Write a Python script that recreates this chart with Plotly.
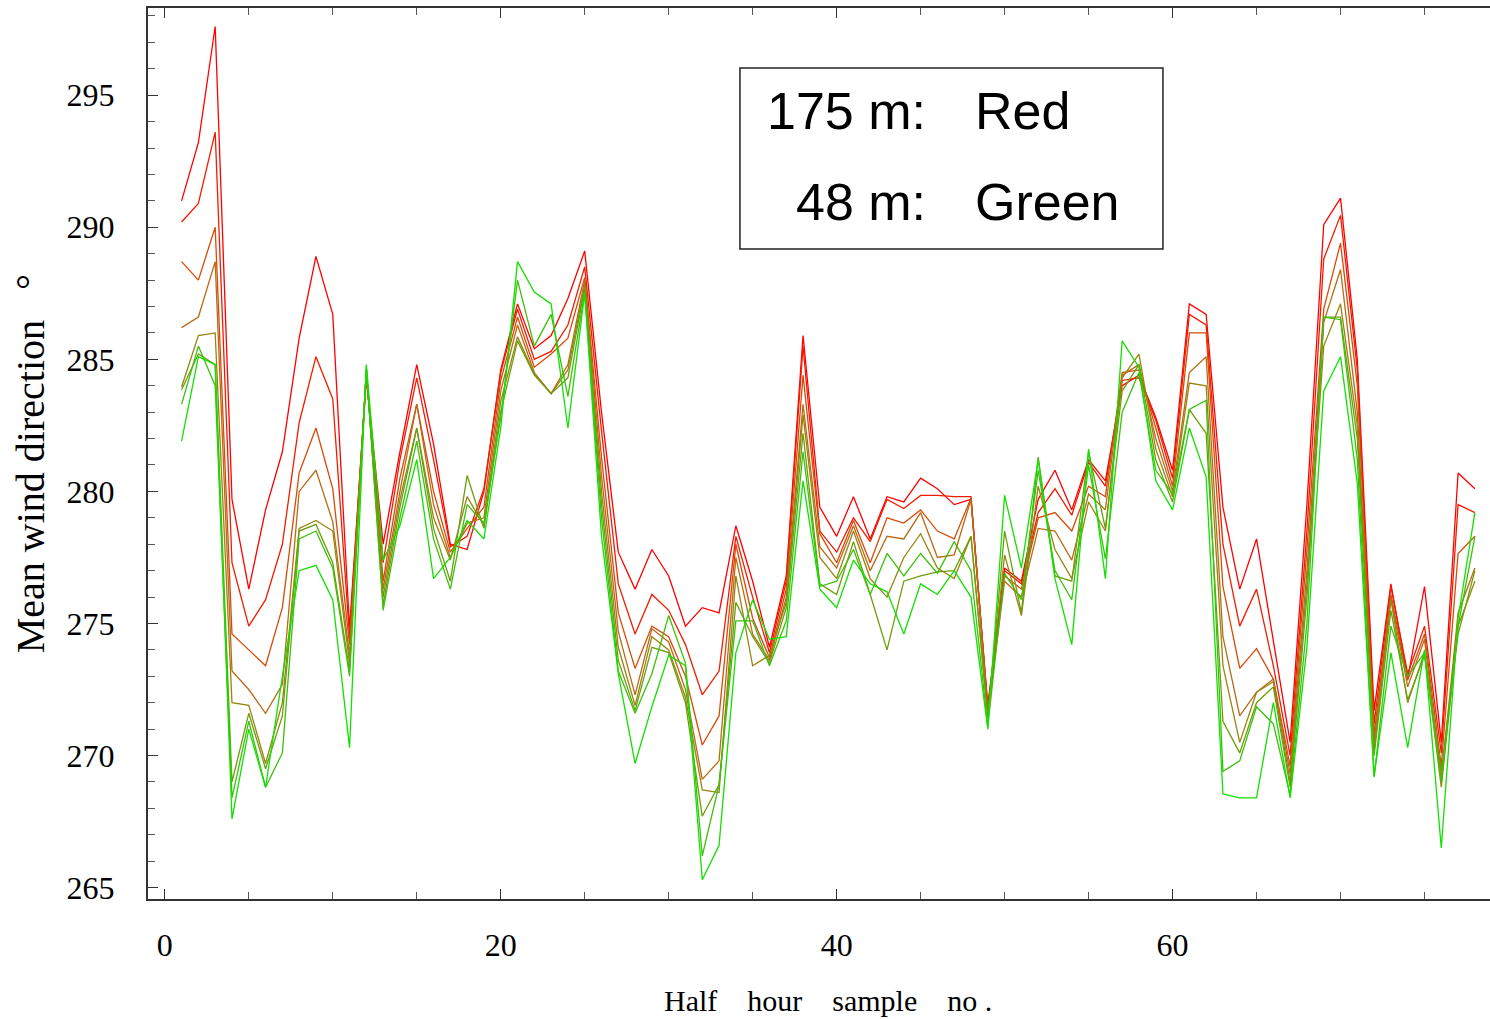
import plotly.graph_objects as go

# Half-hour sample numbers
samples = list(range(1, 79))

# Mean wind direction (degrees) at eight levels, 175 m (red) ... 48 m (green)
level_1 = [291.0, 293.2, 297.6, 279.7, 276.3, 279.3, 281.5, 285.8, 288.9, 286.7,
           274.8, 284.3, 278.0, 281.5, 284.8, 281.8, 278.0, 277.8, 280.0, 284.6,
           287.1, 285.4, 285.9, 287.3, 289.1, 283.0, 277.7, 276.3, 277.8, 276.8,
           274.9, 275.6, 275.4, 278.7, 276.6, 274.1, 276.8, 285.9, 279.4, 278.3,
           279.8, 278.2, 279.8, 279.6, 280.5, 280.1, 279.5, 279.7, 271.9, 277.1,
           276.6, 279.7, 280.8, 279.3, 281.2, 280.4, 284.0, 284.4, 282.8, 280.8,
           287.1, 286.7, 279.4, 276.3, 278.2, 274.4, 270.5, 279.5, 290.1, 291.1,
           285.0, 271.7, 276.5, 272.9, 276.4, 270.5, 280.7, 280.1]
level_2 = [290.2, 290.9, 293.6, 277.3, 274.9, 275.9, 278.0, 282.6, 285.1, 283.5,
           274.5, 284.4, 277.3, 281.2, 284.3, 281.2, 277.9, 278.3, 280.1, 284.5,
           286.9, 285.0, 285.3, 286.3, 288.5, 282.3, 276.5, 274.6, 276.1, 275.5,
           274.2, 272.3, 273.2, 278.3, 276.0, 273.9, 276.6, 285.5, 278.5, 277.7,
           279.0, 278.1, 279.7, 279.35, 279.85, 279.85, 279.8, 279.8, 271.8, 277.0,
           276.5, 279.2, 280.1, 279.1, 281.1, 280.2, 284.2, 284.3, 282.7, 280.5,
           286.7, 286.3, 278.0, 274.9, 276.3, 273.4, 270.0, 278.5, 288.8, 290.45,
           284.6, 271.2, 276.4, 273.1, 274.9, 270.1, 279.5, 279.2]
level_3 = [288.7, 288.0, 290.0, 274.6, 274.0, 273.4, 275.6, 280.7, 282.4, 280.1,
           274.2, 284.5, 276.6, 280.5, 283.3, 280.0, 277.7, 278.6, 279.4, 284.2,
           286.6, 284.7, 285.2, 285.8, 288.1, 281.3, 275.4, 273.3, 274.9, 274.5,
           273.0, 270.4, 271.5, 278.0, 275.2, 273.7, 276.3, 284.4, 278.4, 277.3,
           278.9, 277.3, 279.0, 278.8, 279.3, 278.5, 278.2, 279.75, 271.7, 276.8,
           276.3, 279.0, 279.2, 278.5, 280.2, 279.8, 284.5, 284.6, 282.4, 280.2,
           286.0, 286.0, 276.4, 273.3, 274.05, 272.9, 269.6, 277.8, 286.9, 289.4,
           284.0, 270.8, 276.1, 272.85, 274.6, 269.6, 277.65, 278.3]
level_4 = [286.2, 286.6, 288.7, 273.2, 272.5, 271.6, 272.7, 280.0, 280.8, 278.85,
           273.8, 284.5, 276.3, 280.0, 283.3, 279.5, 277.5, 278.8, 279.0, 283.8,
           286.3, 284.5, 283.7, 284.8, 288.0, 280.6, 274.7, 272.3, 274.8, 274.3,
           272.5, 269.1, 269.8, 277.5, 274.6, 273.6, 276.0, 283.3, 277.9, 277.1,
           278.7, 277.0, 278.3, 278.2, 279.2, 277.5, 277.6, 279.7, 271.6, 276.6,
           276.0, 278.6, 278.5, 277.4, 279.9, 279.3, 284.4, 284.8, 282.0, 280.0,
           284.5, 285.1, 274.5, 271.5, 272.4, 272.9, 269.3, 277.0, 286.4, 288.4,
           283.0, 270.5, 276.0, 272.6, 274.4, 269.1, 275.4, 277.1]
level_5 = [283.95, 285.9, 286.0, 272.0, 271.9, 269.7, 272.0, 278.6, 278.9, 278.5,
           273.5, 284.6, 276.0, 279.7, 282.4, 279.0, 277.4, 279.8, 278.7, 283.4,
           285.85, 284.45, 283.7, 284.6, 287.8, 280.0, 274.1, 271.9, 274.5, 274.0,
           272.2, 268.7, 268.6, 276.8, 273.4, 273.8, 275.8, 282.9, 277.5, 276.7,
           278.5, 276.7, 276.0, 277.5, 278.4, 277.1, 276.7, 278.3, 271.5, 277.6,
           275.3, 280.2, 277.8, 276.7, 279.6, 278.5, 284.3, 285.2, 281.6, 279.8,
           284.1, 284.0, 273.4, 270.5, 272.4, 272.8, 269.0, 276.5, 285.5, 287.1,
           282.5, 270.2, 275.9, 272.0, 273.9, 268.8, 274.9, 276.6]
level_6 = [283.85, 285.2, 284.8, 269.0, 271.6, 269.5, 271.5, 278.5, 278.75, 277.3,
           273.2, 284.6, 275.7, 279.4, 282.4, 278.6, 276.6, 280.6, 278.6, 283.0,
           285.7, 284.4, 283.7, 284.3, 287.7, 279.5, 273.6, 271.7, 274.1, 273.9,
           272.0, 267.7, 268.9, 275.8, 274.5, 273.5, 275.6, 282.2, 276.5, 276.1,
           278.1, 276.1, 274.0, 276.6, 276.8, 276.95, 277.0, 278.3, 271.4, 278.5,
           275.4, 281.3, 276.8, 276.6, 281.5, 278.6, 283.8, 284.8, 281.2, 279.6,
           283.1, 282.2, 271.3, 270.1, 272.0, 272.6, 268.8, 276.0, 286.6, 286.6,
           282.0, 270.0, 275.5, 272.1, 273.8, 269.4, 274.6, 277.0]
level_7 = [283.3, 285.5, 284.0, 268.4, 271.3, 268.8, 270.1, 278.2, 278.5, 277.1,
           273.0, 284.7, 275.5, 279.0, 281.9, 278.2, 276.3, 279.5, 278.8, 282.8,
           288.0, 285.5, 286.7, 283.6, 287.55, 279.0, 273.2, 271.6, 273.1, 275.3,
           273.5, 266.2, 268.9, 275.1, 275.1, 273.4, 275.1, 281.5, 276.4, 276.6,
           277.8, 276.1, 277.65, 276.8, 277.65, 276.9, 278.1, 277.0, 271.1, 276.9,
           275.9, 280.8, 277.0, 275.9, 281.0, 277.45, 283.0, 284.5, 280.8, 279.9,
           283.1, 283.45, 269.4, 269.8, 271.85, 271.2, 268.5, 275.0, 286.6, 286.5,
           281.2, 269.2, 274.9, 273.0, 273.9, 269.0, 274.9, 278.3]
level_8 = [281.9, 285.1, 284.8, 267.6, 271.0, 268.8, 273.0, 277.0, 277.2, 275.9,
           270.3, 284.8, 277.4, 278.7, 281.2, 276.7, 277.5, 278.9, 278.2, 282.4,
           288.7, 287.55, 287.1, 282.4, 287.5, 278.3, 273.1, 269.7, 271.85, 273.8,
           273.4, 265.3, 266.6, 273.9, 275.9, 274.4, 274.5, 280.4, 276.3, 275.6,
           277.4, 276.5, 276.2, 274.6, 276.5, 276.1, 277.0, 276.0, 271.0, 279.85,
           277.1, 281.2, 276.7, 274.2, 281.6, 276.7, 285.7, 284.7, 280.4, 279.3,
           282.4, 280.55, 268.55, 268.4, 268.4, 272.0, 268.4, 274.1, 283.8, 285.1,
           280.3, 269.2, 273.9, 270.3, 274.0, 266.5, 275.2, 279.2]

levels = [level_1, level_2, level_3, level_4, level_5, level_6, level_7, level_8]
level_names = ["175 m", "level 2", "level 3", "level 4", "level 5", "level 6", "level 7", "48 m"]
level_colors = ["#ff0000", "#f01c00", "#d84a08", "#b86a14", "#988410", "#6c9e0c", "#3cc00a", "#12e000"]

fig = go.Figure()
for vals, name, col in zip(levels, level_names, level_colors):
    fig.add_trace(go.Scatter(x=samples, y=vals, mode="lines", name=name,
                             line=dict(color=col, width=1.3), showlegend=False))

axis_font = dict(family="Liberation Serif, Times New Roman, serif", size=32, color="black")

fig.update_layout(
    width=1490, height=1019, autosize=False,
    margin=dict(l=148, r=0, t=8, b=120),
    paper_bgcolor="white", plot_bgcolor="white",
    xaxis=dict(range=[-1, 78.9], tickvals=[0, 20, 40, 60], ticks="inside", ticklen=10,
               tickwidth=1.2, tickcolor="#333",
               minor=dict(dtick=5, tick0=0, ticks="inside", ticklen=7, tickcolor="#555"),
               showline=True, linecolor="#333", linewidth=2, mirror="ticks",
               showgrid=False, zeroline=False, tickfont=axis_font, ticklabelstandoff=17),
    yaxis=dict(range=[264.57, 298.3], tick0=265, dtick=5, ticks="inside", ticklen=10,
               tickwidth=1.2, tickcolor="#333",
               minor=dict(dtick=1, ticks="inside", ticklen=7, tickcolor="#555"),
               showline=True, linecolor="#333", linewidth=2, mirror=False,
               showgrid=False, zeroline=False, tickfont=axis_font, ticklabelstandoff=25),
)

nb = "\u00a0"
fig.add_annotation(xref="paper", yref="paper", x=-0.088, y=0.489, textangle=-90,
                   text="Mean wind direction" + nb * 3 + "°", showarrow=False,
                   font=dict(family="Liberation Serif, Times New Roman, serif", size=40, color="black"),
                   xanchor="center", yanchor="middle")
fig.add_annotation(xref="paper", yref="paper", x=0.5067, y=-0.1134,
                   text="Half" + nb * 4 + "hour" + nb * 4 + "sample" + nb * 4 + "no .",
                   showarrow=False,
                   font=dict(family="Liberation Serif, Times New Roman, serif", size=30, color="black"),
                   xanchor="center", yanchor="middle")

# key box
fig.add_shape(type="rect", xref="paper", yref="paper", x0=0.4411, x1=0.7563, y0=0.7295, y1=0.9327,
              line=dict(color="#222", width=1.5), fillcolor="white", layer="above")
key_font = dict(family="Liberation Sans, Arial, sans-serif", size=52, color="black")
fig.add_annotation(xref="paper", yref="paper", x=0.5813, y=0.8844, text="175 m:", showarrow=False,
                   font=key_font, xanchor="right", yanchor="middle")
fig.add_annotation(xref="paper", yref="paper", x=0.6148, y=0.8844, text="Red", showarrow=False,
                   font=key_font, xanchor="left", yanchor="middle")
fig.add_annotation(xref="paper", yref="paper", x=0.5813, y=0.7822, text="48 m:", showarrow=False,
                   font=key_font, xanchor="right", yanchor="middle")
fig.add_annotation(xref="paper", yref="paper", x=0.6148, y=0.7822, text="Green", showarrow=False,
                   font=key_font, xanchor="left", yanchor="middle")

fig.write_html("out.html")
